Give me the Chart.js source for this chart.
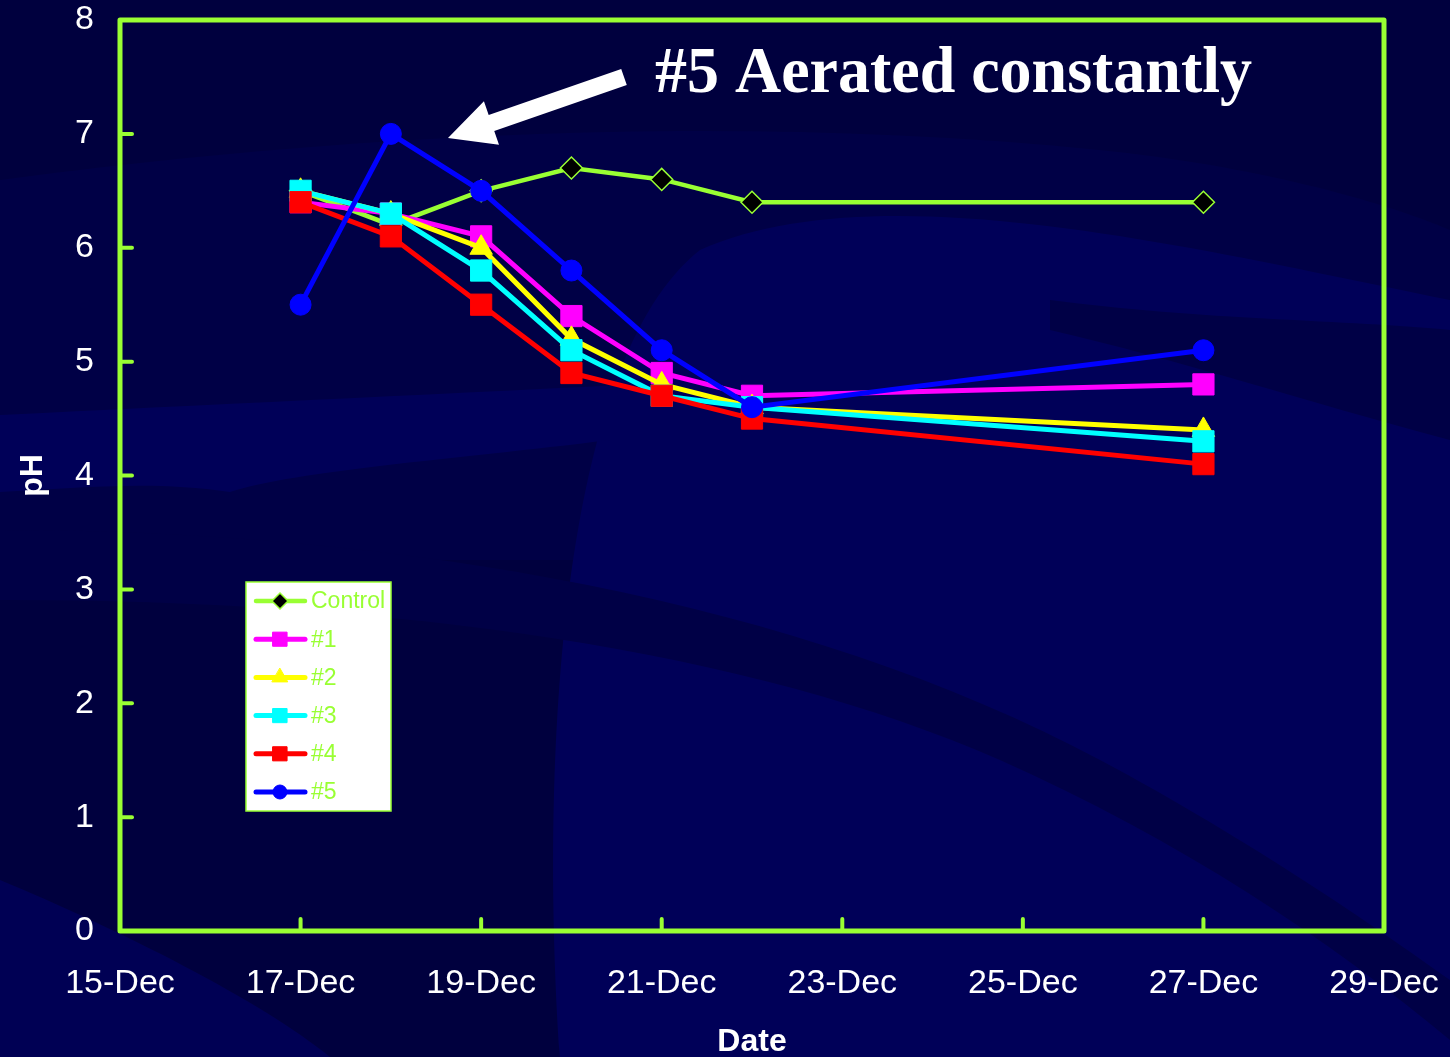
<!DOCTYPE html>
<html>
<head>
<meta charset="utf-8">
<title>pH by date</title>
<script src="https://cdn.jsdelivr.net/npm/chart.js@4/dist/chart.umd.min.js"></script>
<style>
  html, body { margin: 0; padding: 0; background: #000040; }
  #wrap { width: 1450px; height: 1057px; position: relative; }
  canvas { display: block; }
</style>
</head>
<body>
<div id="wrap"><canvas id="c" width="1450" height="1057"></canvas></div>
<script>
// Sampling days (day of December)
const days = [17, 18, 19, 20, 21, 22, 27];

// pH readings per tank
const controlPH = [6.5, 6.2, 6.5, 6.7, 6.6, 6.4, 6.4];
const tank1PH   = [6.4, 6.3, 6.1, 5.4, 4.9, 4.7, 4.8];
const tank2PH   = [6.5, 6.3, 6.0, 5.2, 4.8, 4.6, 4.4];
const tank3PH   = [6.5, 6.3, 5.8, 5.1, 4.7, 4.6, 4.3];
const tank4PH   = [6.4, 6.1, 5.5, 4.9, 4.7, 4.5, 4.1];
const tank5PH   = [5.5, 7.0, 6.5, 5.8, 5.1, 4.6, 5.1];

const seriesNames = ['Control', '#1', '#2', '#3', '#4', '#5'];
const xTickDays = [15, 17, 19, 21, 23, 25, 27, 29];
const yTickValues = [0, 1, 2, 3, 4, 5, 6, 7, 8];
const titleText = '#5 Aerated constantly';

const GREEN = '#99FF33';

function pts(vals) { return days.map((d, i) => ({ x: d, y: vals[i] })); }

const styles = [
  { color: GREEN,     fill: '#000000', pointStyle: 'rectRot',  radius: 11,   legendRadius: 8,   borderWidth: 1.5, lineWidth: 4.5 },
  { color: '#FF00FF', fill: '#FF00FF', pointStyle: 'rect',     radius: 15,   legendRadius: 10,  borderWidth: 1, lineWidth: 5 },
  { color: '#FFFF00', fill: '#FFFF00', pointStyle: 'triangle', radius: 13,   legendRadius: 9,   borderWidth: 1, lineWidth: 5 },
  { color: '#00FFFF', fill: '#00FFFF', pointStyle: 'rect',     radius: 15,   legendRadius: 10,  borderWidth: 1, lineWidth: 5 },
  { color: '#FF0000', fill: '#FF0000', pointStyle: 'rect',     radius: 15,   legendRadius: 10,  borderWidth: 1, lineWidth: 5 },
  { color: '#0000FF', fill: '#0000FF', pointStyle: 'circle',   radius: 10.5, legendRadius: 7,   borderWidth: 1, lineWidth: 5 }
];
const seriesValues = [controlPH, tank1PH, tank2PH, tank3PH, tank4PH, tank5PH];

const datasets = seriesValues.map((vals, i) => ({
  label: seriesNames[i],
  data: pts(vals),
  borderColor: styles[i].color,
  backgroundColor: styles[i].fill,
  borderWidth: styles[i].lineWidth,
  pointStyle: styles[i].pointStyle,
  pointRadius: styles[i].radius,
  pointHoverRadius: styles[i].radius,
  pointBackgroundColor: styles[i].fill,
  pointBorderColor: styles[i].color,
  pointBorderWidth: styles[i].borderWidth,
  tension: 0,
  fill: false,
  // later tanks sit on top of earlier ones
  order: seriesValues.length - 1 - i
}));

// Wavy navy slide background
const backgroundPlugin = {
  id: 'slideBackground',
  beforeDraw(chart) {
    const ctx = chart.ctx;
    const W = chart.width, H = chart.height;
    ctx.save();
    ctx.fillStyle = '#00003E';
    ctx.fillRect(0, 0, W, H);

    // soft lighter sheet over the upper middle
    ctx.fillStyle = '#000046';
    ctx.beginPath();
    ctx.moveTo(0, 180);
    ctx.bezierCurveTo(300, 140, 700, 110, 1100, 150);
    ctx.bezierCurveTo(1250, 165, 1380, 200, 1450, 230);
    ctx.lineTo(1450, 560);
    ctx.lineTo(0, 560);
    ctx.closePath();
    ctx.fill();

    // broad lighter swell across the middle/right
    ctx.fillStyle = '#000058';
    ctx.beginPath();
    ctx.moveTo(560, 1057);
    ctx.bezierCurveTo(540, 760, 560, 360, 700, 250);
    ctx.bezierCurveTo(880, 170, 1200, 250, 1450, 300);
    ctx.lineTo(1450, 1057);
    ctx.closePath();
    ctx.fill();

    // darker gap near the right edge
    ctx.fillStyle = '#000046';
    ctx.beginPath();
    ctx.moveTo(1050, 300);
    ctx.bezierCurveTo(1200, 320, 1350, 320, 1450, 330);
    ctx.lineTo(1450, 440);
    ctx.bezierCurveTo(1300, 400, 1180, 360, 1050, 330);
    ctx.closePath();
    ctx.fill();

    // lighter streak on the left under the axis title
    ctx.fillStyle = '#000058';
    ctx.beginPath();
    ctx.moveTo(0, 415);
    ctx.bezierCurveTo(200, 405, 420, 395, 620, 385);
    ctx.lineTo(610, 440);
    ctx.bezierCurveTo(450, 460, 300, 470, 230, 492);
    ctx.bezierCurveTo(150, 480, 80, 488, 0, 492);
    ctx.closePath();
    ctx.fill();

    // darker diagonal band sweeping down to the lower right
    ctx.fillStyle = '#000046';
    ctx.beginPath();
    ctx.moveTo(0, 530);
    ctx.bezierCurveTo(400, 530, 800, 600, 1100, 760);
    ctx.bezierCurveTo(1250, 840, 1380, 930, 1450, 980);
    ctx.lineTo(1450, 1040);
    ctx.bezierCurveTo(1330, 940, 1180, 840, 1000, 760);
    ctx.bezierCurveTo(750, 650, 400, 600, 0, 600);
    ctx.closePath();
    ctx.fill();

    // lighter sweep along the bottom left
    ctx.fillStyle = '#000054';
    ctx.beginPath();
    ctx.moveTo(0, 880);
    ctx.bezierCurveTo(120, 930, 260, 1000, 330, 1057);
    ctx.lineTo(0, 1057);
    ctx.closePath();
    ctx.fill();
    ctx.restore();
  }
};

// Plot frame and inward tick marks
const framePlugin = {
  id: 'plotFrame',
  beforeDatasetsDraw(chart) {
    const { ctx, chartArea: a, scales } = chart;
    ctx.save();
    ctx.strokeStyle = GREEN;
    ctx.lineCap = 'round';
    ctx.lineWidth = 4;
    yTickValues.forEach(v => {
      if (v === 0 || v === 8) return;
      const y = scales.y.getPixelForValue(v);
      ctx.beginPath(); ctx.moveTo(a.left, y); ctx.lineTo(a.left + 12, y); ctx.stroke();
    });
    xTickDays.forEach(d => {
      if (d === 15 || d === 29) return;
      const x = scales.x.getPixelForValue(d);
      ctx.beginPath(); ctx.moveTo(x, a.bottom); ctx.lineTo(x, a.bottom - 12); ctx.stroke();
    });
    ctx.lineWidth = 5;
    ctx.lineCap = 'butt';
    ctx.lineJoin = 'round';
    ctx.strokeRect(a.left, a.top, a.right - a.left, a.bottom - a.top);
    ctx.restore();
  }
};

// Legend box inside the plot, title and arrow
const overlayPlugin = {
  id: 'overlay',
  afterDraw(chart) {
    const ctx = chart.ctx;
    ctx.save();

    // legend
    const lx = 246, ly = 582, lw = 145, lh = 229;
    ctx.fillStyle = '#FFFFFF';
    ctx.fillRect(lx, ly, lw, lh);
    ctx.strokeStyle = GREEN;
    ctx.lineWidth = 1.5;
    ctx.strokeRect(lx, ly, lw, lh);
    ctx.font = '23px "Liberation Sans", Arial, sans-serif';
    ctx.textBaseline = 'middle';
    ctx.textAlign = 'left';
    seriesNames.forEach((name, i) => {
      const st = styles[i];
      const y = 601 + i * 38.2;
      ctx.strokeStyle = st.color;
      ctx.lineWidth = st.lineWidth;
      ctx.lineCap = 'round';
      ctx.beginPath(); ctx.moveTo(256, y); ctx.lineTo(305, y); ctx.stroke();
      ctx.fillStyle = st.fill;
      ctx.strokeStyle = st.color;
      ctx.lineWidth = st.borderWidth;
      Chart.helpers.drawPoint(ctx, {
        pointStyle: st.pointStyle, radius: st.legendRadius, rotation: 0, borderWidth: st.borderWidth
      }, 280, y);
      ctx.fillStyle = GREEN;
      ctx.fillText(name, 311, y + 1);
    });

    // title
    ctx.fillStyle = '#FFFFFF';
    ctx.font = 'bold 66px "Liberation Serif", "Times New Roman", serif';
    ctx.textBaseline = 'alphabetic';
    const w = ctx.measureText(titleText).width;
    const sx = 597 / w;
    ctx.save();
    ctx.translate(655, 92);
    ctx.scale(sx, 1);
    ctx.fillText(titleText, 0, 0);
    ctx.restore();

    // arrow pointing at the #5 peak
    const tail = { x: 624, y: 77 }, tip = { x: 448, y: 138 };
    const dx = tip.x - tail.x, dy = tip.y - tail.y;
    const len = Math.hypot(dx, dy);
    const ux = dx / len, uy = dy / len, nx = -uy, ny = ux;
    const headLen = 46, headHalf = 23, shaftHalf = 8.5;
    const bx = tip.x - ux * headLen, by = tip.y - uy * headLen;
    ctx.fillStyle = '#FFFFFF';
    ctx.beginPath();
    ctx.moveTo(tail.x + nx * shaftHalf, tail.y + ny * shaftHalf);
    ctx.lineTo(bx + nx * shaftHalf, by + ny * shaftHalf);
    ctx.lineTo(bx + nx * headHalf, by + ny * headHalf);
    ctx.lineTo(tip.x, tip.y);
    ctx.lineTo(bx - nx * headHalf, by - ny * headHalf);
    ctx.lineTo(bx - nx * shaftHalf, by - ny * shaftHalf);
    ctx.lineTo(tail.x - nx * shaftHalf, tail.y - ny * shaftHalf);
    ctx.closePath();
    ctx.fill();
    ctx.restore();
  }
};

new Chart(document.getElementById('c'), {
  type: 'line',
  data: { datasets },
  options: {
    responsive: false,
    devicePixelRatio: 1,
    animation: false,
    events: [],
    layout: { padding: { left: 0, right: 66, top: 20, bottom: 0 } },
    plugins: {
      legend: { display: false },
      tooltip: { enabled: false },
      title: { display: false }
    },
    scales: {
      x: {
        type: 'linear',
        min: 15,
        max: 29,
        afterBuildTicks(scale) { scale.ticks = xTickDays.map(v => ({ value: v })); },
        afterFit(scale) {
          scale.height = 126;
          scale.paddingLeft = 0; scale.paddingRight = 0;
        },
        grid: { display: false, drawTicks: false },
        border: { display: false },
        ticks: {
          color: '#FFFFFF',
          font: { family: '"Liberation Sans", Arial, sans-serif', size: 34 },
          padding: 32,
          maxRotation: 0,
          autoSkip: false,
          callback: v => v + '-Dec'
        },
        title: {
          display: true,
          text: 'Date',
          color: '#FFFFFF',
          font: { family: '"Liberation Sans", Arial, sans-serif', size: 32, weight: 'bold' },
          padding: { top: 0, bottom: -4 }
        }
      },
      y: {
        min: 0,
        max: 8,
        afterBuildTicks(scale) { scale.ticks = yTickValues.map(v => ({ value: v })); },
        afterFit(scale) {
          scale.width = 120;
          scale.paddingTop = 0; scale.paddingBottom = 0;
        },
        grid: { display: false, drawTicks: false },
        border: { display: false },
        ticks: {
          color: '#FFFFFF',
          font: { family: '"Liberation Sans", Arial, sans-serif', size: 34 },
          padding: 26
        },
        title: {
          display: true,
          text: 'pH',
          color: '#FFFFFF',
          font: { family: '"Liberation Sans", Arial, sans-serif', size: 32, weight: 'bold' },
          padding: { top: 14, bottom: 0 }
        }
      }
    }
  },
  plugins: [backgroundPlugin, framePlugin, overlayPlugin]
});
</script>
</body>
</html>
